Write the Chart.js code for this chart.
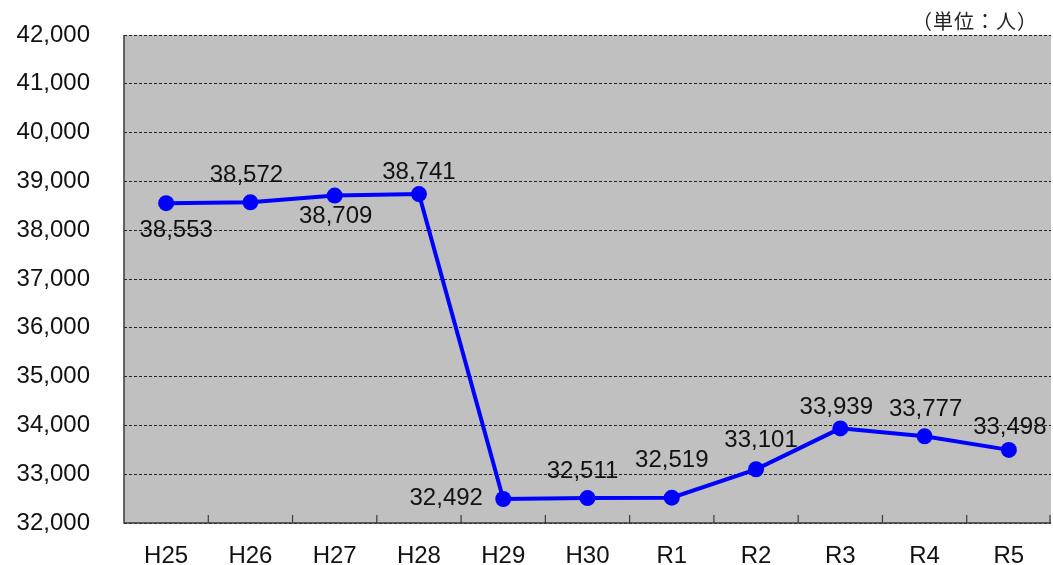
<!DOCTYPE html>
<html>
<head>
<meta charset="utf-8">
<script src="https://cdn.jsdelivr.net/npm/chart.js@4/dist/chart.umd.min.js"></script>
<style>
  html, body { margin: 0; padding: 0; background: #fff; }
  #wrap { position: relative; width: 1053px; height: 565px; }
  #chart { display: block; }
  #unit {
    position: absolute; left: 912px; top: 6px; letter-spacing: 1px;
    font: 20px "Noto Sans CJK JP", sans-serif; color: #222;
  }
</style>
</head>
<body>
<div id="wrap">
  <canvas id="chart" width="1053" height="565"></canvas>
  <div id="unit">（単位：人）</div>
</div>
<script>
const YEARS = ['H25', 'H26', 'H27', 'H28', 'H29', 'H30', 'R1', 'R2', 'R3', 'R4', 'R5'];
const PEOPLE = [38553, 38572, 38709, 38741, 32492, 32511, 32519, 33101, 33939, 33777, 33498];
const Y_MIN = 32000;
const Y_MAX = 42000;
const Y_STEP = 1000;

// where each value label sits relative to its point (dx, dy in px)
const LABEL_OFFSETS = [
  [10, 27], [-4, -27], [1, 21], [0, -22], [-57, -1], [-5, -27],
  [0, -37], [5, -29], [-4, -21], [1, -27], [1, -23],
];

const FONT = '"Liberation Sans", Arial, sans-serif';

const plotBackground = {
  id: 'plotBackground',
  beforeDraw(chart) {
    const { ctx, chartArea: a } = chart;
    ctx.save();
    ctx.fillStyle = '#c0c0c0';
    ctx.fillRect(a.left, a.top, a.right - a.left, a.bottom - a.top);
    ctx.restore();
  },
  afterDatasetsDraw(chart) {
    const { ctx, chartArea: a } = chart;
    const x = chart.scales.x;
    ctx.save();
    ctx.strokeStyle = '#3a3a3a';
    ctx.lineWidth = 1.5;
    ctx.beginPath();
    ctx.moveTo(a.left, a.top);
    ctx.lineTo(a.left, a.bottom);
    ctx.lineTo(a.right, a.bottom);
    ctx.stroke();
    // small inward ticks between categories
    ctx.lineWidth = 1.2;
    for (let i = 1; i <= YEARS.length; i++) {
      const px = i < YEARS.length
        ? (x.getPixelForValue(i - 1) + x.getPixelForValue(i)) / 2
        : a.right - 1;
      ctx.beginPath();
      ctx.moveTo(px, a.bottom);
      ctx.lineTo(px, a.bottom - 8);
      ctx.stroke();
    }
    ctx.restore();
  },
};

const valueLabels = {
  id: 'valueLabels',
  afterDatasetsDraw(chart) {
    const { ctx } = chart;
    const meta = chart.getDatasetMeta(0);
    ctx.save();
    ctx.font = '24px ' + FONT;
    ctx.fillStyle = '#111';
    ctx.textAlign = 'center';
    ctx.textBaseline = 'middle';
    meta.data.forEach((pt, i) => {
      const [dx, dy] = LABEL_OFFSETS[i];
      ctx.fillText(PEOPLE[i].toLocaleString('en-US'), pt.x + dx, pt.y + dy);
    });
    ctx.restore();
  },
};

new Chart(document.getElementById('chart'), {
  type: 'line',
  data: {
    labels: YEARS,
    datasets: [{
      data: PEOPLE,
      borderColor: '#0000ff',
      backgroundColor: '#0000ff',
      borderWidth: 4,
      pointRadius: 8,
      pointHoverRadius: 8,
      pointBorderWidth: 0,
      tension: 0,
    }],
  },
  options: {
    responsive: false,
    animation: false,
    events: [],
    layout: { autoPadding: false, padding: { top: 35, right: 2, left: 0, bottom: 0 } },
    plugins: { legend: { display: false }, tooltip: { enabled: false } },
    scales: {
      x: {
        offset: true,
        grid: { display: false },
        border: { display: false },
        ticks: { color: '#111', font: { size: 24, family: FONT }, padding: 11 },
        afterFit(scale) {
          scale.height = 42;
          scale.paddingLeft = 0;
          scale.paddingRight = 0;
        },
      },
      y: {
        min: Y_MIN,
        max: Y_MAX,
        ticks: {
          stepSize: Y_STEP,
          color: '#111',
          font: { size: 24, family: FONT },
          padding: 34,
          callback: (v) => v.toLocaleString('en-US'),
        },
        grid: { color: '#222', lineWidth: 1, drawTicks: false },
        border: { display: false, dash: [3, 2] },
        afterFit(scale) {
          scale.width = 124;
          scale.paddingTop = 0;
          scale.paddingBottom = 0;
        },
      },
    },
  },
  plugins: [plotBackground, valueLabels],
});
</script>
</body>
</html>
